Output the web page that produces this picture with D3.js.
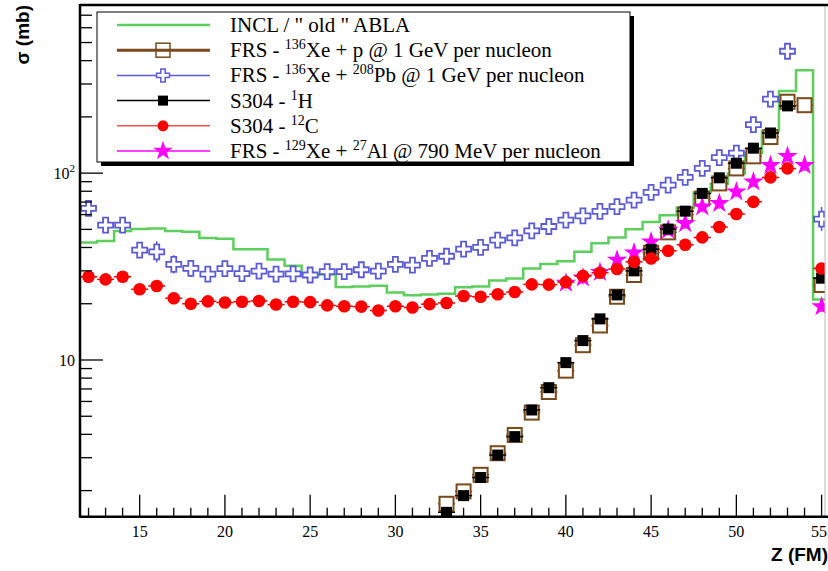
<!DOCTYPE html>
<html><head><meta charset="utf-8">
<script src="https://cdn.jsdelivr.net/npm/d3@7"></script>
<style>body{margin:0;background:#fff}svg{display:block}</style>
</head><body>
<svg id="c" width="828" height="571"></svg>
<script>
// ---------- data ----------
const zAll = d3.range(12, 56);            // Z = 12..55
const inclAbla = [42.6,43.3,49,50.2,50.6,49,48.5,45,44.5,39.1,39.1,34.5,31.9,28.3,28.7,24.6,24.7,25,23.0,22.2,22.4,22.6,24.5,24.7,26.6,27.3,30.9,32.6,33.8,37.9,42.1,45.3,50.1,54.7,59.6,65.3,78.9,87.4,99.6,128,168,275,355,21.1];
const frsXePb = [64.7,52.7,52.7,38.7,37.9,32.5,30.9,28.8,30.8,29.0,29.9,28.8,28.9,28.5,29.7,29.7,30.4,29.9,32.5,32.2,35.0,35.9,39.2,40.1,43.8,45.0,49.1,51.8,56.1,59.0,62.5,66.2,71.7,78.9,86.3,94.9,106,121,128,182,249,449,null,56.8];
const frsXePbErr = [0.04,0.04,0.04,0.05,0.14,0.12,0.11,0.08,0.05,0.04,0.04,0.04,0.04,0.04,0.03,0.03,0.03,0.03,0.03,0.03,0.03,0.03,0.03,0.03,0.03,0.03,0.03,0.03,0.03,0.03,0.03,0.03,0.03,0.03,0.03,0.03,0.03,0.03,0.03,0.05,0.06,0.08,null,0.16];
const s304C = [27.9,27.0,27.9,23.9,24.9,21.4,20.0,20.6,20.3,20.5,20.7,19.8,20.5,20.4,19.6,19.4,19.3,18.4,19.4,19.1,19.9,20.2,22.0,21.8,22.5,23.1,25.4,25.3,26.1,28.2,29.3,30.7,33.5,34.9,38.4,41.4,45.3,51.5,60.4,70.2,94.9,106,null,30.9];
const zHeavy = d3.range(33, 56);          // Z = 33..55
const s304H = [1.53,1.88,2.35,3.10,3.89,5.40,7.11,9.68,12.7,16.6,22.3,30.0,39.1,50.2,62.6,77.9,94.4,113,136,164,229,null,27.4];
const frsXeP = [1.70,1.98,2.43,3.17,3.97,5.23,6.74,8.77,12.0,15.3,21.8,28.5,37.5,48.2,60.1,73.2,88.1,106,123,156,241,231,25.2];
const zAl = d3.range(40, 56);             // Z = 40..55
const frsXeAl = [25.8,27.5,29.5,34.3,37.5,42.9,49.6,53.8,66.1,68.9,79.5,89.9,110,123,110,19.3];
const frsXeAlErr = [0.10,0.08,0.06,0.07,0.07,0.07,0.07,0.07,0.07,0.07,0.07,0.07,0.07,0.07,0.07,0.10];

const xTicks = [15,20,25,30,35,40,45,50,55];
const yMajor = [10,100];
const legendItems = [
  {key:"incl", parts:[['INCL / " old " ABLA',0]]},
  {key:"frsp", parts:[["FRS - ",0],["136",1],["Xe + p @ 1 GeV per nucleon",0]]},
  {key:"frspb", parts:[["FRS - ",0],["136",1],["Xe + ",0],["208",1],["Pb @ 1 GeV per nucleon",0]]},
  {key:"h", parts:[["S304 - ",0],["1",1],["H",0]]},
  {key:"c", parts:[["S304 - ",0],["12",1],["C",0]]},
  {key:"al", parts:[["FRS - ",0],["129",1],["Xe + ",0],["27",1],["Al @ 790 MeV per nucleon",0]]}
];

// ---------- colours ----------
const col = {green:"#5ccf5c", brown:"#7a4a1a", blue:"#5b5bd9", black:"#000", red:"#ff0000", magenta:"#ff00ff"};

// ---------- layout ----------
const L=80, R=825, T=5, B=516.7;
const svg = d3.select("#c");
const x = d3.scaleLinear().domain([11.5, 55.2]).range([L, R]);
const y = d3.scaleLog().domain([1.45, 794]).range([B, T]);
const serif = "'Liberation Serif','Times New Roman',serif";
const sans = "'Liberation Sans',Arial,Helvetica,sans-serif";

svg.append("defs").append("clipPath").attr("id","plot")
  .append("rect").attr("x",L).attr("y",T).attr("width",R-L).attr("height",B-T);
const g = svg.append("g").attr("clip-path","url(#plot)");

// green histogram
const histPts = [];
zAll.forEach((z,i)=>{ histPts.push([z-0.5, inclAbla[i]]); histPts.push([z+0.5, inclAbla[i]]); });
g.append("path").attr("d", d3.line().x(d=>x(d[0])).y(d=>y(d[1]))(histPts))
  .attr("fill","none").attr("stroke",col.green).attr("stroke-width",2.5);

// marker helpers
const crossPath = (a,b)=>`M${-b},${-a}H${b}V${-b}H${a}V${b}H${b}V${a}H${-b}V${b}H${-a}V${-b}H${-b}Z`;
function xErr(sel, zs, vals, color, w){
  sel.selectAll(null).data(zs.map((z,i)=>[z,vals[i]]).filter(d=>d[1]!=null)).enter()
    .append("line").attr("x1",d=>x(d[0]-0.5)).attr("x2",d=>x(d[0]+0.5))
    .attr("y1",d=>y(d[1])).attr("y2",d=>y(d[1])).attr("stroke",color).attr("stroke-width",w);
}

// brown open squares (FRS 136Xe + p)
const gBrown = g.append("g");
xErr(gBrown, zHeavy, frsXeP, col.brown, 1.5);
gBrown.selectAll("rect").data(zHeavy.map((z,i)=>[z,frsXeP[i]]).filter(d=>d[1]!=null)).enter()
  .append("rect").attr("x",d=>x(d[0])-7).attr("y",d=>y(d[1])-7).attr("width",14).attr("height",14)
  .attr("fill","#fff").attr("stroke",col.brown).attr("stroke-width",2);

// blue open crosses (FRS 136Xe + 208Pb)
const gBlue = g.append("g");
const bluePts = zAll.map((z,i)=>({z, v:frsXePb[i], e:frsXePbErr[i]})).filter(d=>d.v!=null);
gBlue.selectAll("line").data(bluePts).enter().append("line")
  .attr("x1",d=>x(d.z)).attr("x2",d=>x(d.z))
  .attr("y1",d=>y(d.v*(1+d.e))).attr("y2",d=>y(d.v/(1+d.e)))
  .attr("stroke",col.blue).attr("stroke-width",1.5);
gBlue.selectAll("path").data(bluePts).enter().append("path")
  .attr("d",crossPath(7.5,2.5)).attr("transform",d=>`translate(${x(d.z)},${y(d.v)})`)
  .attr("fill","#fff").attr("stroke",col.blue).attr("stroke-width",1.8);

// magenta stars (FRS 129Xe + 27Al)
const gMag = g.append("g");
const magPts = zAl.map((z,i)=>({z, v:frsXeAl[i], e:frsXeAlErr[i]}));
gMag.selectAll("line").data(magPts).enter().append("line")
  .attr("x1",d=>x(d.z)).attr("x2",d=>x(d.z))
  .attr("y1",d=>y(d.v*(1+d.e))).attr("y2",d=>y(d.v/(1+d.e)))
  .attr("stroke",col.magenta).attr("stroke-width",1.5).attr("stroke-dasharray","3,2");
gMag.selectAll("path").data(magPts).enter().append("path")
  .attr("d",d3.symbol(d3.symbolStar,130)()).attr("transform",d=>`translate(${x(d.z)},${y(d.v)})`)
  .attr("fill",col.magenta);

// black squares (S304 1H)
const gBlack = g.append("g");
xErr(gBlack, zHeavy, s304H, col.black, 1.5);
gBlack.selectAll("rect").data(zHeavy.map((z,i)=>[z,s304H[i]]).filter(d=>d[1]!=null)).enter()
  .append("rect").attr("x",d=>x(d[0])-5.5).attr("y",d=>y(d[1])-5.5).attr("width",11).attr("height",11)
  .attr("fill",col.black);

// red circles (S304 12C)
const gRed = g.append("g");
xErr(gRed, zAll, s304C, col.red, 1.5);
gRed.selectAll("circle").data(zAll.map((z,i)=>[z,s304C[i]]).filter(d=>d[1]!=null)).enter()
  .append("circle").attr("cx",d=>x(d[0])).attr("cy",d=>y(d[1])).attr("r",6.3).attr("fill",col.red);

// ---------- frame & axes ----------
svg.append("line").attr("x1",R).attr("x2",R).attr("y1",T).attr("y2",B).attr("stroke","#bbb").attr("stroke-width",1);
svg.append("line").attr("x1",L).attr("x2",828).attr("y1",T).attr("y2",T).attr("stroke","#000").attr("stroke-width",2.5);
svg.append("line").attr("x1",L).attr("x2",L).attr("y1",T-1).attr("y2",B+1).attr("stroke","#000").attr("stroke-width",2.5);
svg.append("line").attr("x1",L).attr("x2",828).attr("y1",B).attr("y2",B).attr("stroke","#000").attr("stroke-width",2.5);

// x ticks (drawn inward)
const xMinor = d3.range(12, 56).filter(z=>z%5!==0);
svg.append("g").selectAll("line").data(xMinor).enter().append("line")
  .attr("x1",d=>x(d)).attr("x2",d=>x(d)).attr("y1",B).attr("y2",B-9).attr("stroke","#000").attr("stroke-width",1.3);
svg.append("g").selectAll("line").data(xTicks).enter().append("line")
  .attr("x1",d=>x(d)).attr("x2",d=>x(d)).attr("y1",B).attr("y2",B-22).attr("stroke","#000").attr("stroke-width",1.3);
svg.append("g").selectAll("text").data(xTicks).enter().append("text")
  .attr("x",d=> d===55 ? 827 : x(d)).attr("y",537).attr("text-anchor",d=> d===55 ? "end" : "middle")
  .attr("font-family",serif).attr("font-size",16).text(d=>d);

// y ticks (drawn inward)
const yMinor = [];
[1,10,100].forEach(dec=>{ for(let k=2;k<=9;k++){ const v=k*dec; if(v>1.45 && v<794) yMinor.push(v);} });
svg.append("g").selectAll("line").data(yMinor).enter().append("line")
  .attr("x1",L).attr("x2",L+12).attr("y1",d=>y(d)).attr("y2",d=>y(d)).attr("stroke","#000").attr("stroke-width",1.3);
svg.append("g").selectAll("line").data(yMajor).enter().append("line")
  .attr("x1",L).attr("x2",L+23).attr("y1",d=>y(d)).attr("y2",d=>y(d)).attr("stroke","#000").attr("stroke-width",1.3);
const yl = svg.append("g");
yl.append("text").attr("x",75).attr("y",y(10)+6).attr("text-anchor","end")
  .attr("font-family",serif).attr("font-size",16).text("10");
const t100 = yl.append("text").attr("x",75).attr("y",y(100)+6).attr("text-anchor","end")
  .attr("font-family",serif).attr("font-size",16);
t100.append("tspan").text("10");
t100.append("tspan").attr("dy",-7).attr("font-size",11).text("2");

// axis titles
svg.append("text").attr("transform","translate(29,5) rotate(-90)").attr("text-anchor","end")
  .attr("font-family",sans).attr("font-weight","bold").attr("font-size",19).text("σ (mb)");
svg.append("text").attr("x",828).attr("y",561).attr("text-anchor","end")
  .attr("font-family",sans).attr("font-weight","bold").attr("font-size",19).text("Z (FM)");

// ---------- legend ----------
const LX=97, LY=12, LW=533, LH=150;
svg.append("rect").attr("x",LX+4).attr("y",LY+4).attr("width",LW).attr("height",LH).attr("fill","#000");
svg.append("rect").attr("x",LX).attr("y",LY).attr("width",LW).attr("height",LH).attr("fill","#fff").attr("stroke","#000").attr("stroke-width",1);
const rowY = i => LY + 13 + i*25.2;
const lx1=117, lx2=210, mx=163;
legendItems.forEach((it,i)=>{
  const yy=rowY(i);
  const gl = svg.append("g");
  const lineCol = {incl:col.green, frsp:col.brown, frspb:col.blue, h:col.black, c:"#f05050", al:col.magenta}[it.key];
  gl.append("line").attr("x1",lx1).attr("x2",lx2).attr("y1",yy).attr("y2",yy).attr("stroke",lineCol)
    .attr("stroke-width", it.key==="frsp"?3: (it.key==="incl"?2.5:1.5));
  if(it.key==="frsp") gl.append("rect").attr("x",mx-7).attr("y",yy-7).attr("width",14).attr("height",14).attr("fill","none").attr("stroke",col.brown).attr("stroke-width",1.5);
  if(it.key==="frspb") gl.append("path").attr("d",crossPath(6.5,2.2)).attr("transform",`translate(${mx},${yy})`).attr("fill","#fff").attr("stroke",col.blue).attr("stroke-width",1.5);
  if(it.key==="h") gl.append("rect").attr("x",mx-5).attr("y",yy-5).attr("width",10).attr("height",10).attr("fill","#000");
  if(it.key==="c") gl.append("circle").attr("cx",mx).attr("cy",yy).attr("r",5.5).attr("fill",col.red);
  if(it.key==="al") gl.append("path").attr("d",d3.symbol(d3.symbolStar,120)()).attr("transform",`translate(${mx},${yy})`).attr("fill",col.magenta);
  const t = gl.append("text").attr("x",230).attr("y",yy+7).attr("font-family",serif).attr("font-size",21);
  let raised = false;
  it.parts.forEach(p=>{
    const sp = t.append("tspan").text(p[0]);
    if(p[1]){ sp.attr("dy", raised ? 0 : -8).attr("font-size",14); raised = true; }
    else { sp.attr("dy", raised ? 8 : 0); raised = false; }
  });
});
</script>
</body></html>
